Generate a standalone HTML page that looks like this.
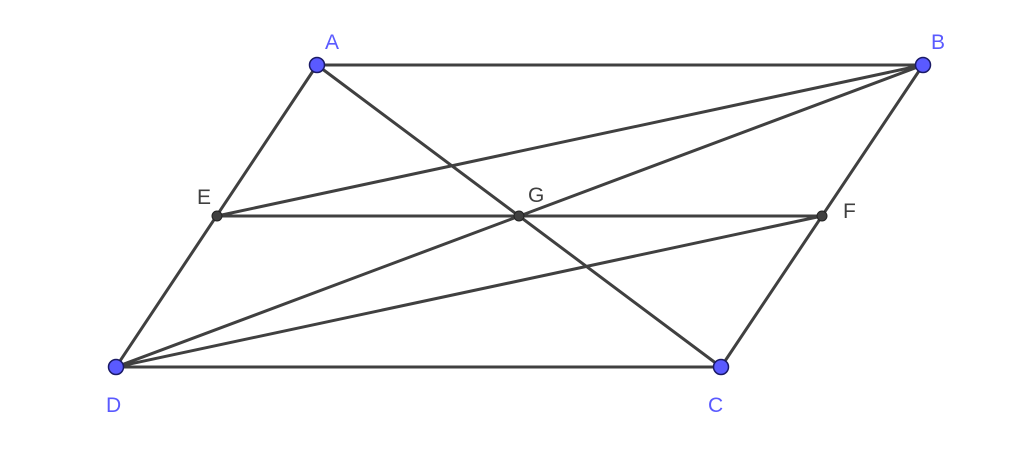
<!DOCTYPE html>
<html><head><style>html,body{margin:0;padding:0;background:#fff}</style></head>
<body>
<svg width="1024" height="447" viewBox="0 0 1024 447" xmlns="http://www.w3.org/2000/svg">
<rect width="1024" height="447" fill="#fff"/>
<g stroke="#404040" stroke-width="3" stroke-linecap="round" fill="none">
<line x1="317" y1="65" x2="923" y2="65"/>
<line x1="923" y1="65" x2="721" y2="367"/>
<line x1="721" y1="367" x2="116" y2="367"/>
<line x1="116" y1="367" x2="317" y2="65"/>
<line x1="317" y1="65" x2="721" y2="367"/>
<line x1="923" y1="65" x2="116" y2="367"/>
<line x1="217" y1="216" x2="822" y2="216"/>
<line x1="217" y1="216" x2="923" y2="65"/>
<line x1="116" y1="367" x2="822" y2="216"/>
</g>
<g fill="#404040" stroke="#222" stroke-width="1">
<circle cx="217" cy="216" r="5"/>
<circle cx="519" cy="216" r="5"/>
<circle cx="822" cy="216" r="5"/>
</g>
<g fill="#5a5aff" stroke="#1a1a66" stroke-width="1.5">
<circle cx="317" cy="65" r="7.5"/>
<circle cx="923" cy="65" r="7.5"/>
<circle cx="721" cy="367" r="7.5"/>
<circle cx="116" cy="367" r="7.5"/>
</g>
<g font-family="Liberation Sans, sans-serif" font-size="21">
<text x="325" y="49" fill="#5a5aff">A</text>
<text x="931" y="49" fill="#5a5aff">B</text>
<text x="708" y="412" fill="#5a5aff">C</text>
<text x="106" y="412" fill="#5a5aff">D</text>
<text x="197" y="204" fill="#404040">E</text>
<text x="843" y="218" fill="#404040">F</text>
<text x="528" y="202" fill="#404040">G</text>
</g>
</svg>
</body></html>
